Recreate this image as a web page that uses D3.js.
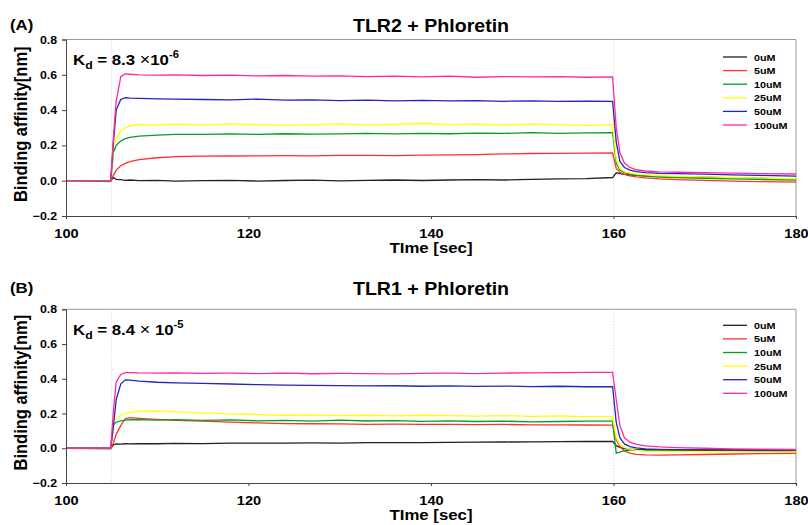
<!DOCTYPE html>
<html><head><meta charset="utf-8">
<script src="https://cdn.jsdelivr.net/npm/d3@7"></script>
<style>body{margin:0;background:#fff}svg{display:block}text{font-family:"Liberation Sans",Arial,sans-serif;font-weight:bold}</style>
</head><body><svg id="c" width="808" height="525"></svg>
<script>
const seriesNames = ["0uM","5uM","10uM","25uM","50uM","100uM"];
const seriesColors = ["#222222","#ff3030","#00a020","#ffff00","#2424c0","#ff2aa0"];
const xTicks = [100,120,140,160,180];
const yTicks = [-0.2,0.0,0.2,0.4,0.6,0.8];
const times = [100,104.9,105.2,105.5,106,106.5,107,108,110,112,115,118,121,124,127,130,133,136,139,142,145,148,151,154,157,159.9,160.3,160.7,161.2,161.8,162.5,163.5,165,167,170,173,176,180];

const a0 = [0,0,0.018,0.008,0.006,0.002,0.004,0.000,0.002,-0.002,0.000,0.002,-0.002,0.001,0.003,-0.001,0.002,0.004,0.001,0.004,0.006,0.004,0.008,0.010,0.012,0.018,0.045,0.040,0.036,0.033,0.030,0.028,0.025,0.022,0.020,0.016,0.013,0.010];
const a5 = [0,0,0.03,0.06,0.085,0.098,0.108,0.120,0.130,0.136,0.139,0.140,0.141,0.142,0.141,0.143,0.144,0.142,0.145,0.146,0.148,0.152,0.154,0.155,0.156,0.157,0.07,0.048,0.036,0.028,0.022,0.016,0.010,0.006,0.002,-0.002,-0.005,-0.008];
const a10 = [0,-0.005,0.16,0.20,0.225,0.238,0.245,0.252,0.258,0.262,0.262,0.265,0.262,0.266,0.264,0.265,0.268,0.265,0.268,0.266,0.270,0.268,0.272,0.268,0.271,0.272,0.10,0.06,0.045,0.037,0.031,0.026,0.021,0.018,0.014,0.010,0.007,0.004];
const a25 = [0,0,0.19,0.24,0.28,0.30,0.31,0.318,0.315,0.320,0.316,0.322,0.318,0.315,0.318,0.322,0.316,0.319,0.324,0.318,0.320,0.316,0.320,0.318,0.314,0.318,0.12,0.07,0.052,0.044,0.038,0.033,0.028,0.025,0.022,0.018,0.015,0.011];
const a50 = [0,0,0.22,0.40,0.46,0.470,0.468,0.466,0.464,0.462,0.460,0.458,0.462,0.456,0.458,0.454,0.456,0.452,0.455,0.452,0.454,0.450,0.452,0.449,0.451,0.449,0.22,0.11,0.075,0.060,0.052,0.046,0.042,0.040,0.037,0.033,0.030,0.026];
const a100 = [0,0,0.25,0.45,0.59,0.605,0.603,0.600,0.598,0.600,0.596,0.598,0.594,0.596,0.592,0.594,0.590,0.592,0.588,0.592,0.586,0.590,0.588,0.590,0.586,0.588,0.30,0.16,0.10,0.075,0.062,0.055,0.050,0.048,0.046,0.043,0.040,0.038];

const b0 = [0,0,0.02,0.025,0.024,0.026,0.025,0.027,0.026,0.028,0.027,0.029,0.030,0.029,0.031,0.030,0.032,0.033,0.032,0.034,0.035,0.036,0.037,0.038,0.039,0.040,0.015,0.005,-0.002,-0.005,-0.007,-0.008,-0.009,-0.009,-0.010,-0.010,-0.010,-0.010];
const b5 = [0,0,0.03,0.08,0.13,0.170,0.176,0.172,0.166,0.160,0.156,0.150,0.146,0.142,0.141,0.140,0.138,0.139,0.137,0.138,0.136,0.137,0.135,0.135,0.134,0.133,0.05,0.01,-0.015,-0.028,-0.035,-0.038,-0.039,-0.038,-0.036,-0.033,-0.031,-0.030];
const b10 = [0,-0.003,0.135,0.15,0.158,0.162,0.164,0.165,0.162,0.165,0.160,0.163,0.158,0.160,0.156,0.162,0.157,0.159,0.155,0.158,0.154,0.156,0.152,0.154,0.156,0.156,-0.028,-0.022,-0.014,-0.010,-0.010,-0.012,-0.014,-0.016,-0.017,-0.018,-0.018,-0.019];
const b25 = [0,0,0.14,0.17,0.19,0.200,0.206,0.212,0.214,0.210,0.204,0.198,0.194,0.190,0.192,0.188,0.190,0.186,0.190,0.188,0.185,0.188,0.184,0.186,0.182,0.182,0.06,0.02,0.005,-0.005,-0.012,-0.016,-0.018,-0.019,-0.020,-0.020,-0.021,-0.021];
const b50 = [0,0,0.13,0.28,0.37,0.394,0.392,0.386,0.380,0.377,0.374,0.370,0.366,0.364,0.362,0.361,0.359,0.360,0.357,0.359,0.356,0.358,0.355,0.357,0.354,0.354,0.15,0.06,0.025,0.010,0.002,-0.003,-0.006,-0.008,-0.009,-0.010,-0.010,-0.011];
const b100 = [0,0,0.22,0.38,0.425,0.435,0.436,0.434,0.433,0.434,0.431,0.432,0.430,0.432,0.429,0.431,0.430,0.428,0.431,0.432,0.430,0.433,0.434,0.436,0.437,0.437,0.28,0.13,0.06,0.035,0.022,0.014,0.008,0.004,0.000,-0.003,-0.005,-0.007];

const panels = [
  {label:"(A)", title:"TLR2 + Phloretin", kdParts:["8.3 ","\u00d7","10"], exp:"-6", labelY:30, titleY:31.5, top:39.5, bottom:216, legendOff:17.5, series:[a0,a5,a10,a25,a50,a100]},
  {label:"(B)", title:"TLR1 + Phloretin", kdParts:["8.4 ","\u00d7"," 10"], exp:"-5", labelY:293, titleY:294.5, top:309.3, bottom:483, legendOff:16, series:[b0,b5,b10,b25,b50,b100]}
];

const SX = 1.12;
const svg = d3.select("#c");
const left = 66, right = 796;

function txt(parent, x, y, str, size, anchor) {
  return parent.append("g").attr("transform",`translate(${x},${y}) scale(${SX},1)`)
    .append("text").attr("font-size",size).attr("text-anchor",anchor||"start").text(str);
}

panels.forEach(p => {
  const x = d3.scaleLinear().domain([100,180]).range([left,right]);
  const y = d3.scaleLinear().domain([-0.2,0.8]).range([p.bottom,p.top]);
  const g = svg.append("g");

  txt(g, 10, p.labelY, p.label, 15);
  txt(g, 431, p.titleY, p.title, 17.5, "middle");

  g.append("path").attr("d",`M${left},${p.top}H${right}V${p.bottom+2}`).attr("fill","none").attr("stroke","#999").attr("stroke-width",1);

  [105,160].forEach(t => g.append("line").attr("x1",x(t)).attr("x2",x(t)).attr("y1",p.top).attr("y2",p.bottom)
    .attr("stroke","#f7bccb").attr("stroke-width",1).attr("stroke-dasharray","1,2"));

  const line = d3.line().x((d,i)=>x(times[i])).y(d=>y(d));
  p.series.forEach((s,i) => {
    g.append("path").datum(s).attr("d",line).attr("fill","none").attr("stroke",seriesColors[i]).attr("stroke-width",1.3);
  });

  const ya = g.append("g").attr("transform",`translate(${left},0)`)
    .call(d3.axisLeft(y).tickValues(yTicks).tickFormat(d3.format(".1f")).tickSize(4));
  ya.select(".domain").attr("stroke","#444");
  ya.selectAll(".tick line").attr("stroke","#444");
  ya.selectAll("text").attr("font-size",11).attr("font-family","Liberation Sans, Arial").attr("font-weight","bold").attr("fill","#000")
    .attr("x",-8).attr("transform",`scale(${SX},1)`);

  const xa = g.append("g").attr("transform",`translate(0,${p.bottom})`)
    .call(d3.axisBottom(x).tickValues(xTicks).tickFormat(d3.format("d")).tickSize(3));
  xa.select(".domain").attr("stroke","#444");
  xa.selectAll(".tick line").attr("stroke","#444");
  xa.selectAll("text").attr("font-size",13).attr("font-family","Liberation Sans, Arial").attr("font-weight","bold").attr("fill","#000")
    .attr("y",22).attr("dy",0).attr("transform",`scale(${SX},1)`);

  txt(g, 431, p.bottom+37, "TIme [sec]", 15, "middle");

  g.append("g").attr("transform",`translate(27,${(p.top+p.bottom)/2-3.5}) scale(${SX},1) rotate(-90)`)
    .append("text").attr("font-size",16.5).attr("text-anchor","middle").text("Binding affinity[nm]");

  const kd = g.append("g").attr("transform",`translate(73,${p.top+25.7}) scale(${SX},1)`).append("text").attr("font-size",15);
  kd.append("tspan").text("K");
  kd.append("tspan").attr("font-size",11).attr("dy",4).text("d");
  kd.append("tspan").attr("dy",-4).text(" = " + p.kdParts[0]);
  kd.append("tspan").attr("font-weight","normal").attr("font-size",16).text(p.kdParts[1]);
  kd.append("tspan").text(p.kdParts[2]);
  kd.append("tspan").attr("font-size",10).attr("dy",-7).text(p.exp);

  const lg = g.append("g");
  seriesNames.forEach((n,i) => {
    const yy = p.top + p.legendOff + i*13.6;
    lg.append("line").attr("x1",723).attr("x2",747).attr("y1",yy).attr("y2",yy).attr("stroke",seriesColors[i]).attr("stroke-width",1.3);
    txt(lg, 754, yy+3.5, n, 9.6);
  });
});
</script></body></html>
